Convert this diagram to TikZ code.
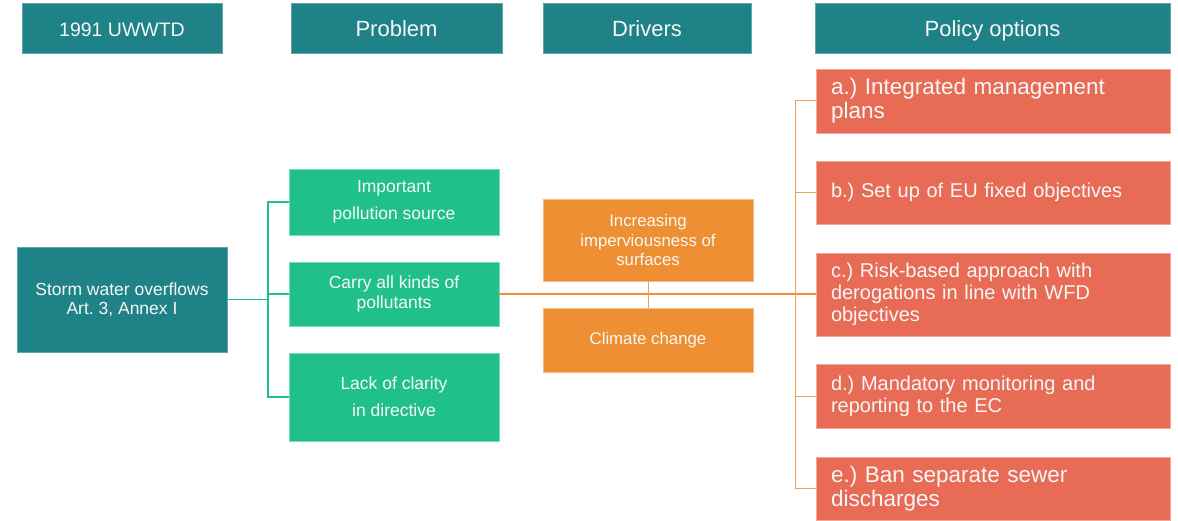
\documentclass[tikz,border=0pt]{standalone}
\usepackage{fontspec}
\setmainfont{Liberation Sans}
\frenchspacing
\definecolor{cteal}{HTML}{1F8287}
\definecolor{cgreen}{HTML}{20C08A}
\definecolor{corange}{HTML}{EE8F33}
\definecolor{cred}{HTML}{E86C55}
\definecolor{ctext}{HTML}{F7F7F7}
\tikzset{
  box/.style={rectangle, inner sep=0pt, text=ctext, align=center, line width=0.8pt},
  headbox/.style={box, fill=cteal, draw=cteal!70!white, font=\fontsize{22}{24}\selectfont, text height=17pt, text depth=0pt},
  tealbox/.style={box, fill=cteal, draw=cteal!70!white, font=\fontsize{17.5}{19}\selectfont},
  greenbox/.style={box, fill=cgreen, draw=cgreen!60!white, minimum width=210pt},
  orangebox/.style={box, fill=corange, draw=corange!60!white, minimum width=210pt, font=\fontsize{16.8}{19.5}\selectfont},
  redbox/.style={box, fill=cred, draw=cred!60!white, inner xsep=15pt, text width=324pt, align=left},
  gline/.style={draw=cgreen, line width=1.3pt},
  oline/.style={draw=corange, line width=1.5pt},
  pline/.style={draw=corange!85!white, line width=1pt},
}
\begin{document}
\begin{tikzpicture}[x=1pt,y=-1pt]
\useasboundingbox (0,0) rectangle (1178,521);
% headers
\node[headbox, minimum width=200pt, minimum height=50pt, font=\fontsize{19.5}{22}\selectfont] (h1) at (122,28) {1991 UWWTD};
\node[headbox, minimum width=211pt, minimum height=50pt] (h2) at (396.5,28) {Problem};
\node[headbox, minimum width=208pt, minimum height=50pt] (h3) at (647,28) {Drivers};
\node[headbox, minimum width=355pt, minimum height=50pt] (h4) at (992.5,28) {Policy options};
% left
\node[tealbox, minimum width=210pt, minimum height=105pt] (L) at (122,299.5) {Storm water overflows\\Art. 3, Annex I};
% problems
\node[greenbox, minimum height=66pt, font=\fontsize{17.5}{27}\selectfont] (G1) at (394,202) {Important\\pollution source};
\node[greenbox, minimum height=64pt, font=\fontsize{17.5}{20}\selectfont] (G2) at (394,294) {Carry all kinds of\\pollutants};
\node[greenbox, minimum height=88pt, font=\fontsize{17.5}{27}\selectfont] (G3) at (394,397) {Lack of clarity\\in directive};
% drivers
\node[orangebox, minimum height=82pt] (O1) at (648,240) {Increasing\\imperviousness of\\surfaces};
\node[orangebox, minimum height=64pt] (O2) at (648,340) {Climate change};
% policy options
\node[redbox, minimum height=64pt, font=\fontsize{22.5}{24}\selectfont] (R1) at (993,101) {a.) Integrated management\\plans};
\node[redbox, minimum height=63pt, font=\fontsize{20}{22}\selectfont] (R2) at (993,192.5) {b.) Set up of EU fixed objectives};
\node[redbox, minimum height=83pt, font=\fontsize{20}{22}\selectfont] (R3) at (993,294.5) {c.) Risk-based approach with\\derogations in line with WFD\\objectives};
\node[redbox, minimum height=64pt, font=\fontsize{20}{22}\selectfont] (R4) at (993,396) {d.) Mandatory monitoring and\\reporting to the EC};
\node[redbox, minimum height=63pt, font=\fontsize{22.5}{24}\selectfont] (R5) at (993,488.5) {e.) Ban separate sewer\\discharges};
% connectors left
\coordinate (gb) at (268,299.5);
\draw[gline] (L.east) -- (gb);
\draw[gline] (gb) |- (G1.west);
\draw[gline] (gb) |- (G3.west);
\draw[gline] (gb |- G2.west) -- (G2.west);
% drivers link
\draw[oline] (G2.east) -- (R3.west |- G2.east);
\draw[pline] (O1.south) -- (O2.north);
% policy branches
\coordinate (pb) at (795,294);
\draw[pline] (pb) |- (R1.west);
\draw[pline] (pb) |- (R5.west);
\draw[pline] (pb |- R2.west) -- (R2.west);
\draw[pline] (pb |- R4.west) -- (R4.west);
\end{tikzpicture}
\end{document}
